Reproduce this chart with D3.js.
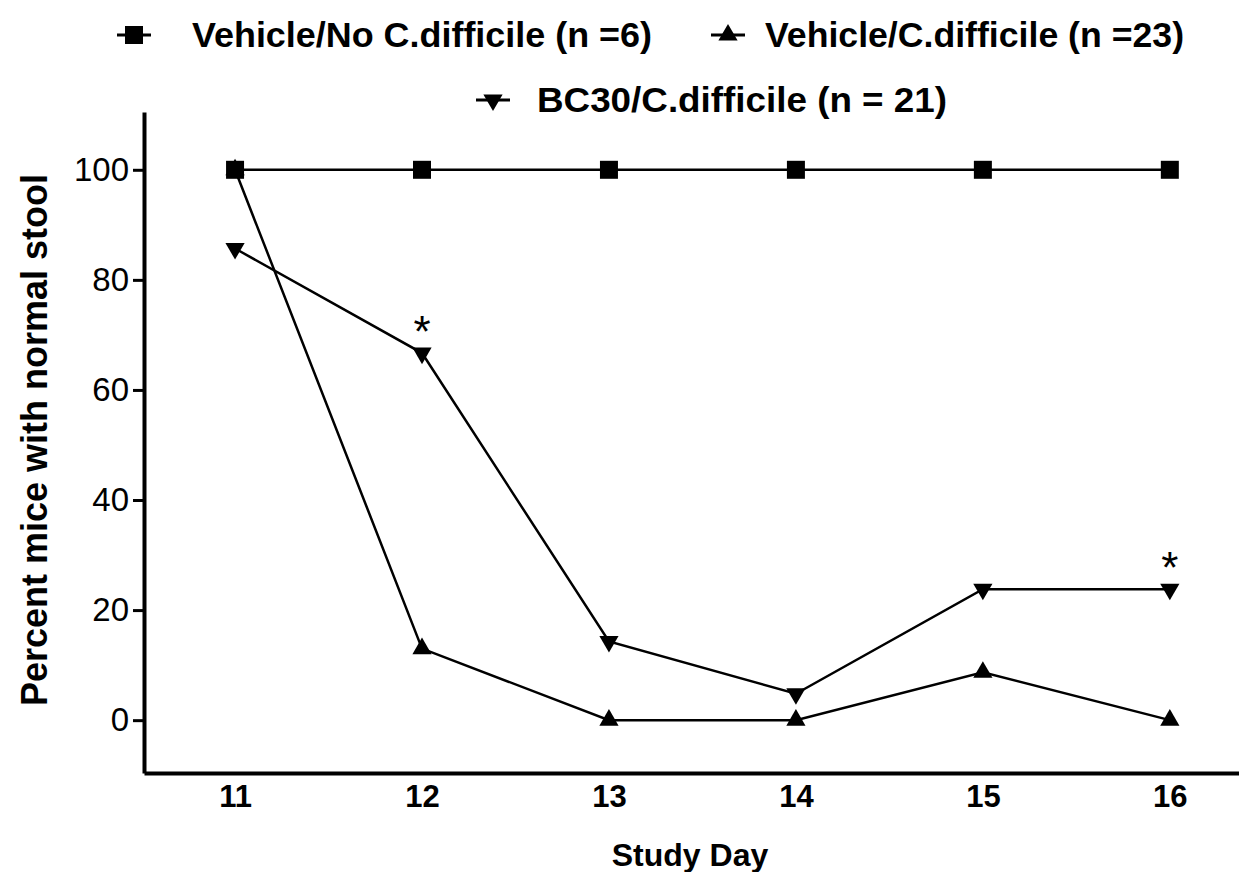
<!DOCTYPE html>
<html>
<head>
<meta charset="utf-8">
<script src="https://cdn.jsdelivr.net/npm/d3@7"></script>
<style>
  body { margin: 0; background: #fff; }
  text { font-family: "Liberation Sans", Arial, sans-serif; fill: #000; }
</style>
</head>
<body>
<svg id="chart" width="1239" height="872"></svg>
<script>
// study days and percent of mice with normal stool
var days = [11, 12, 13, 14, 15, 16];
var noCdiff = [100, 100, 100, 100, 100, 100];
var vehCdiff = [100, 13.0, 0, 0, 8.7, 0];
var bc30Cdiff = [85.7, 66.7, 14.3, 4.8, 23.8, 23.8];
var starDays = [12, 16];
var yTicks = [0, 20, 40, 60, 80, 100];

var names = ["Vehicle/No C.difficile (n =6)", "Vehicle/C.difficile (n =23)", "BC30/C.difficile (n = 21)"];

var svg = d3.select("#chart");

var x = d3.scaleLinear()
    .domain([10.513, 16.37])
    .range([144, 1239]);

var y = d3.scaleLinear()
    .domain([-9.6, 110.5])
    .range([773, 112]);

// y axis
var yAxis = svg.append("g")
    .attr("transform", "translate(144,0)")
    .call(d3.axisLeft(y).tickValues(yTicks).tickSize(11).tickSizeOuter(0).tickPadding(4));
yAxis.select(".domain").attr("stroke-width", 4);
yAxis.selectAll(".tick line").attr("stroke-width", 3);
yAxis.selectAll(".tick text")
    .attr("fill", "#000")
    .style("font-size", "33px")
    .style("font-family", "Liberation Sans, Arial, sans-serif");

// x axis, no tick marks
var xAxis = svg.append("g")
    .attr("transform", "translate(0,773)")
    .call(d3.axisBottom(x).tickValues(days).tickFormat(d3.format("d"))
      .tickSize(0).tickSizeOuter(0).tickPadding(12));
xAxis.select(".domain").attr("stroke-width", 4);
xAxis.selectAll(".tick text")
    .attr("fill", "#000")
    .style("font-size", "31px")
    .style("font-weight", "bold")
    .style("font-family", "Liberation Sans, Arial, sans-serif");

// axis titles
svg.append("text")
    .attr("transform", "translate(47,440) rotate(-90)")
    .attr("text-anchor", "middle")
    .style("font-size", "36px")
    .style("font-weight", "bold")
    .text("Percent mice with normal stool");

svg.append("text")
    .attr("x", 690)
    .attr("y", 866)
    .attr("text-anchor", "middle")
    .style("font-size", "32px")
    .style("font-weight", "bold")
    .text("Study Day");

var line = d3.line()
    .x(function(d, i) { return x(days[i]); })
    .y(function(d) { return y(d); });

var square = d3.symbol().type(d3.symbolSquare).size(324);
var tri = d3.symbol().type(d3.symbolTriangle).size(160);

function drawSeries(vals, sym, rot) {
  svg.append("path")
      .attr("d", line(vals))
      .attr("fill", "none")
      .attr("stroke", "#000")
      .attr("stroke-width", 2.5);
  svg.selectAll(null)
    .data(vals)
    .enter().append("path")
      .attr("d", sym)
      .attr("transform", function(d, i) {
        return "translate(" + x(days[i]) + "," + y(d) + ") rotate(" + rot + ")";
      })
      .attr("fill", "#000");
}

drawSeries(bc30Cdiff, tri, 180);
drawSeries(vehCdiff, tri, 0);
drawSeries(noCdiff, square, 0);

// significance markers
svg.selectAll(".star")
  .data(starDays)
  .enter().append("text")
    .attr("class", "star")
    .attr("x", function(d) { return x(d); })
    .attr("y", function(d) { return y(bc30Cdiff[days.indexOf(d)]) - 6; })
    .attr("text-anchor", "middle")
    .style("font-size", "44px")
    .text("*");

// legend
var legendItems = [
  {name: names[0], sym: square, rot: 0, lx: 117, tx: 192, ty: 35, w: 460},
  {name: names[1], sym: tri, rot: 0, lx: 711, tx: 765, ty: 35, w: 419},
  {name: names[2], sym: tri, rot: 180, lx: 476, tx: 537, ty: 100, w: 410}
];

var leg = svg.append("g");
legendItems.forEach(function(d) {
  leg.append("line")
      .attr("x1", d.lx).attr("x2", d.lx + 34)
      .attr("y1", d.ty).attr("y2", d.ty)
      .attr("stroke", "#000")
      .attr("stroke-width", 3);
  leg.append("path")
      .attr("d", d.sym)
      .attr("transform", "translate(" + (d.lx + 17) + "," + d.ty + ") rotate(" + d.rot + ")")
      .attr("fill", "#000");
  leg.append("text")
      .attr("x", d.tx)
      .attr("y", d.ty + 12)
      .attr("textLength", d.w)
      .attr("lengthAdjust", "spacingAndGlyphs")
      .style("font-size", "35px")
      .style("font-weight", "bold")
      .text(d.name);
});
</script>
</body>
</html>
